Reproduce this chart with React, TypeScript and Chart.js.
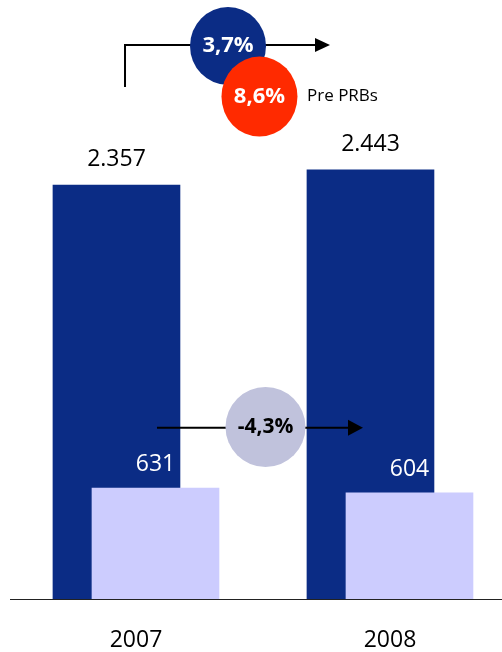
import React, { useEffect, useRef } from 'react';
import { Chart, registerables } from 'chart.js';

Chart.register(...registerables);

const categories = ['2007', '2008'];
const totalValues = [2357, 2443];
const prbValues = [631, 604];
const totalGrowth = '3,7%';
const prePrbGrowth = '8,6%';
const prbGrowth = '-4,3%';
const prePrbLabel = 'Pre PRBs';

const DARK = '#0b2c85';
const LIGHT = '#ccccfe';
const RED = '#ff2a00';
const CIRCLE_LIGHT = '#c0c2dc';
const FONT = '"Open Sans", "Noto Sans", sans-serif';

const fmt = (v: number) => String(v).replace(/\B(?=(\d{3})+(?!\d))/g, '.');

function arrowHead(ctx: CanvasRenderingContext2D, tipX: number, y: number, len: number, half: number) {
  ctx.beginPath();
  ctx.moveTo(tipX, y);
  ctx.lineTo(tipX - len, y - half);
  ctx.lineTo(tipX - len, y + half);
  ctx.closePath();
  ctx.fill();
}

function ellipse(ctx: CanvasRenderingContext2D, cx: number, cy: number, rx: number, ry: number, color: string) {
  ctx.beginPath();
  ctx.ellipse(cx, cy, rx, ry, 0, 0, Math.PI * 2);
  ctx.fillStyle = color;
  ctx.fill();
}

const annotationPlugin = {
  id: 'annotationPlugin',
  afterDatasetsDraw(chart: any) {
    const ctx: CanvasRenderingContext2D = chart.ctx;
    const xs = chart.scales.x;
    const ys = chart.scales.y;
    const X = (v: number) => xs.getPixelForValue(v);
    const Y = (v: number) => ys.getPixelForValue(v);
    ctx.save();

    // value labels
    const lightMeta = chart.getDatasetMeta(0);
    const darkMeta = chart.getDatasetMeta(1);
    ctx.textAlign = 'center';
    ctx.textBaseline = 'alphabetic';
    ctx.font = `23px ${FONT}`;
    darkMeta.data.forEach((bar: any, i: number) => {
      ctx.fillStyle = '#000';
      ctx.fillText(fmt(totalValues[i]), bar.x, bar.y - 19);
    });
    lightMeta.data.forEach((bar: any, i: number) => {
      ctx.fillStyle = '#fff';
      ctx.fillText(fmt(prbValues[i]), bar.x, bar.y - 17);
    });

    // top growth arrow
    ctx.strokeStyle = '#000';
    ctx.fillStyle = '#000';
    ctx.lineWidth = 2;
    const topY = Y(3154);
    ctx.beginPath();
    ctx.moveTo(X(0.9568), Y(2915));
    ctx.lineTo(X(0.9568), topY);
    ctx.lineTo(X(1.71), topY);
    ctx.stroke();
    arrowHead(ctx, X(1.7638), topY, 15, 7);

    ellipse(ctx, X(1.3623), Y(3148), 38, 39, DARK);
    ellipse(ctx, X(1.4862), Y(2860), 38, 40, RED);
    ctx.font = `bold 22px ${FONT}`;
    ctx.textBaseline = 'middle';
    ctx.fillStyle = '#fff';
    ctx.fillText(totalGrowth, X(1.3623), Y(3148));
    ctx.fillText(prePrbGrowth, X(1.4862), Y(2860));
    ctx.font = `17px ${FONT}`;
    ctx.textAlign = 'left';
    ctx.fillStyle = '#000';
    ctx.fillText(prePrbLabel, X(1.6733), Y(2860));

    // middle PRB arrow
    const midY = Y(975);
    ctx.strokeStyle = '#000';
    ctx.lineWidth = 2;
    ctx.beginPath();
    ctx.moveTo(X(1.0827), midY);
    ctx.lineTo(X(1.84), midY);
    ctx.stroke();
    ctx.fillStyle = '#000';
    arrowHead(ctx, X(1.8937), midY, 15, 8);
    ellipse(ctx, X(1.5099), Y(979), 40, 40, CIRCLE_LIGHT);
    ctx.font = `bold 21px ${FONT}`;
    ctx.textAlign = 'center';
    ctx.fillStyle = '#000';
    ctx.fillText(prbGrowth, X(1.5099), Y(979));

    ctx.restore();
  },
};

export default function App() {
  const ref = useRef<HTMLCanvasElement | null>(null);

  useEffect(() => {
    if (!ref.current) return;
    const offset = 0.0768;
    const chart = new Chart(ref.current, {
      type: 'bar',
      data: {
        datasets: [
          {
            label: 'PRBs',
            data: prbValues.map((v, i) => ({ x: i + 1 + offset, y: v })),
            backgroundColor: LIGHT,
            barThickness: 127,
            grouped: false,
          } as any,
          {
            label: 'Total',
            data: totalValues.map((v, i) => ({ x: i + 1 - offset, y: v })),
            backgroundColor: DARK,
            barThickness: 127,
            grouped: false,
          } as any,
        ],
      },
      options: {
        animation: false,
        responsive: false,
        maintainAspectRatio: false,
        layout: { padding: { left: 10, right: 0, top: 0, bottom: 0 } },
        plugins: { legend: { display: false }, tooltip: { enabled: false } },
        scales: {
          x: {
            type: 'linear',
            offset: false,
            min: 0.504,
            max: 2.441,
            grid: { display: false, drawTicks: false, offset: false },
            border: { display: true, color: '#222', width: 1 },
            afterBuildTicks: (scale: any) => {
              scale.ticks = categories.map((_, i) => ({ value: i + 1 }));
            },
            afterFit: (scale: any) => {
              scale.height = 53;
            },
            ticks: {
              padding: 28,
              color: '#000',
              font: { family: FONT, size: 23 },
              callback: (v: any) => categories[Math.round(Number(v)) - 1] ?? '',
            },
          },
          y: {
            display: false,
            min: 0,
            max: 3410,
          },
        },
      },
      plugins: [annotationPlugin],
    });
    return () => chart.destroy();
  }, []);

  return (
    <div style={{ position: 'fixed', left: 0, top: 0, width: 502, height: 652, background: '#fff' }}>
      <canvas ref={ref} width={502} height={652} style={{ display: 'block' }} />
    </div>
  );
}
